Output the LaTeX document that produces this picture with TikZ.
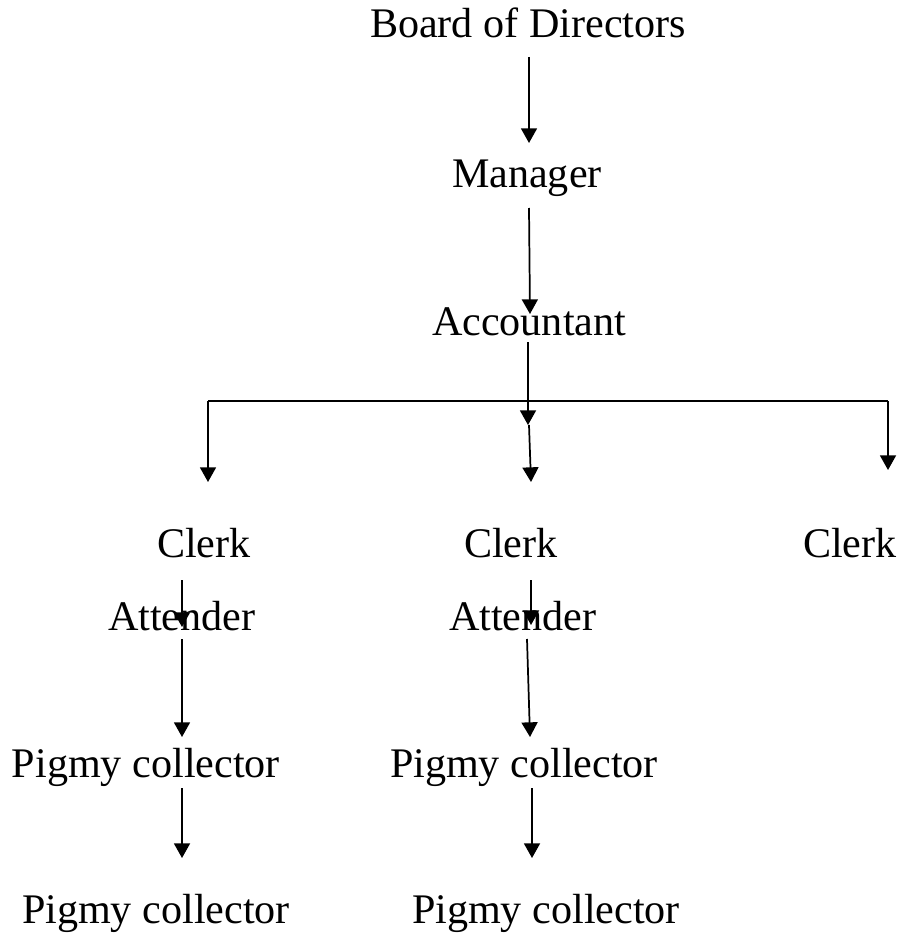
\documentclass[tikz,border=0pt]{standalone}
\usepackage{fontspec}
\setmainfont{Liberation Serif}
\usetikzlibrary{arrows.meta}
\tikzset{
  lbl/.style={anchor=base west, inner sep=0pt, outer sep=0pt, font=\fontsize{31.6}{38}\selectfont},
  arr/.style={line width=1.3pt, -{Triangle[width=12pt,length=11pt]}},
  ln/.style={line width=1.3pt}
}
\begin{document}
\begin{tikzpicture}[x=0.75pt,y=-0.75pt]
\useasboundingbox (0,0) rectangle (903,938);
% labels
\node[lbl] (board) at (370,38) {Board of Directors};
\node[lbl] (manager) at (452,187) {Manager};
\node[lbl] (acct) at (432,335) {Accountant};
\node[lbl] (clerkA) at (157,557) {Clerk};
\node[lbl] (clerkB) at (464,557) {Clerk};
\node[lbl] (clerkC) at (803,557) {Clerk};
\node[lbl] (attA) at (108,630) {Attender};
\node[lbl] (attB) at (449,630) {Attender};
\node[lbl] (pigA) at (12,777) {Pigmy collector};
\node[lbl] (pigB) at (390,777) {Pigmy collector};
\node[lbl] (pigC) at (22,923) {Pigmy collector};
\node[lbl] (pigD) at (412,923) {Pigmy collector};
% connector end points
\coordinate (b1) at (529,57);  \coordinate (m1) at (529,143);
\coordinate (m2) at (529,208); \coordinate (a1) at (530,314);
\coordinate (a2) at (528,342); \coordinate (a3) at (528,425);
\coordinate (hl) at (208,401); \coordinate (hr) at (888,401);
\coordinate (cA) at (208,482); \coordinate (cC) at (888,470);
\coordinate (a4) at (529,425); \coordinate (cB) at (531,482);
\coordinate (kA1) at (182,580); \coordinate (kA2) at (182,627);
\coordinate (kB1) at (531,580); \coordinate (kB2) at (531,625);
\coordinate (tA1) at (182,639); \coordinate (tA2) at (182,737);
\coordinate (tB1) at (527,639); \coordinate (tB2) at (530,737);
\coordinate (pA1) at (182,788); \coordinate (pA2) at (182,858);
\coordinate (pB1) at (532,788); \coordinate (pB2) at (532,858);
% connectors
\draw[arr] (b1) -- (m1);
\draw[arr] (m2) -- (a1);
\draw[arr] (a2) -- (a3);
\draw[ln] (hl) -- (hr);
\draw[arr] (hl) -- (cA);
\draw[arr] (hr) -- (cC);
\draw[arr] (a4) -- (cB);
\draw[arr] (kA1) -- (kA2);
\draw[arr] (kB1) -- (kB2);
\draw[arr] (tA1) -- (tA2);
\draw[arr] (tB1) -- (tB2);
\draw[arr] (pA1) -- (pA2);
\draw[arr] (pB1) -- (pB2);
\end{tikzpicture}
\end{document}
